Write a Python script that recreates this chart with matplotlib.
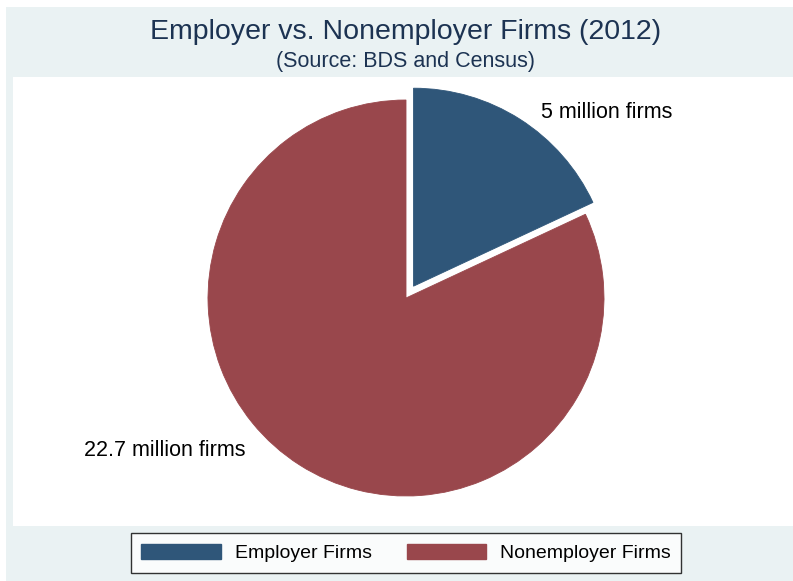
import matplotlib
matplotlib.use("Agg")
import matplotlib.pyplot as plt
from matplotlib.patches import Rectangle, Patch

# firm counts, millions
groups = ["Employer Firms", "Nonemployer Firms"]
firms = [5.0, 22.7]
slice_labels = ["5 million firms", "22.7 million firms"]
colors = ["#2f5679", "#99474c"]

W, H = 793, 581
fig = plt.figure(figsize=(W / 100, H / 100), dpi=100)
fig.patch.set_facecolor("white")

# graph region (light blue) and plot region (white), kept behind the axes
fig.patches.append(Rectangle((6 / W, 0), 1, (H - 7) / H, transform=fig.transFigure,
                             facecolor="#eaf2f3", edgecolor="none", zorder=-10))
fig.patches.append(Rectangle((13 / W, (H - 526) / H), 1, (526 - 77) / H,
                             transform=fig.transFigure, facecolor="white",
                             edgecolor="none", zorder=-9))

cx, cy, half = 406, H - 298, 280
ax = fig.add_axes([(cx - half) / W, (cy - half) / H, 2 * half / W, 2 * half / H])

wedges, _ = ax.pie(firms, colors=colors, startangle=90, counterclock=False,
                   explode=[0.07, 0], radius=0.99,
                   wedgeprops=dict(linewidth=0.6))
for w, c in zip(wedges, colors):
    w.set_edgecolor(c)

# pie() sets its own limits, so fix them afterwards
ax.set_xlim(-1.4, 1.4)
ax.set_ylim(-1.4, 1.4)
ax.set_aspect("equal")
ax.axis("off")

lab_font = dict(family=["Liberation Sans", "DejaVu Sans"], fontsize=15.5, color="black")
ax.text(1.005, 0.93, slice_labels[0], ha="center", va="center", **lab_font)
ax.text(-1.205, -0.765, slice_labels[1], ha="center", va="center", **lab_font)

fig.text(406 / W, 1 - 32 / H, "Employer vs. Nonemployer Firms (2012)",
         ha="center", va="center", fontsize=20.5, color="#1c3352",
         family=["Liberation Sans Narrow", "Liberation Sans", "DejaVu Sans"])
fig.text(406 / W, 1 - 61 / H, "(Source: BDS and Census)",
         ha="center", va="center", fontsize=15.5, color="#1c3352",
         family=["Liberation Sans Narrow", "Liberation Sans", "DejaVu Sans"])

handles = [Patch(facecolor=c, edgecolor=c) for c in colors]
leg = fig.legend(handles, groups, loc="center", bbox_to_anchor=(406 / W, 1 - 553 / H),
                 ncol=2, frameon=True, fancybox=False,
                 prop={"family": ["Liberation Sans", "DejaVu Sans"], "size": 14},
                 handlelength=4.1, handleheight=0.85, columnspacing=1.8,
                 handletextpad=0.7, borderpad=0.55)
leg.get_frame().set_edgecolor("black")
leg.get_frame().set_linewidth(1.0)

fig.savefig("out.png", dpi=100)
